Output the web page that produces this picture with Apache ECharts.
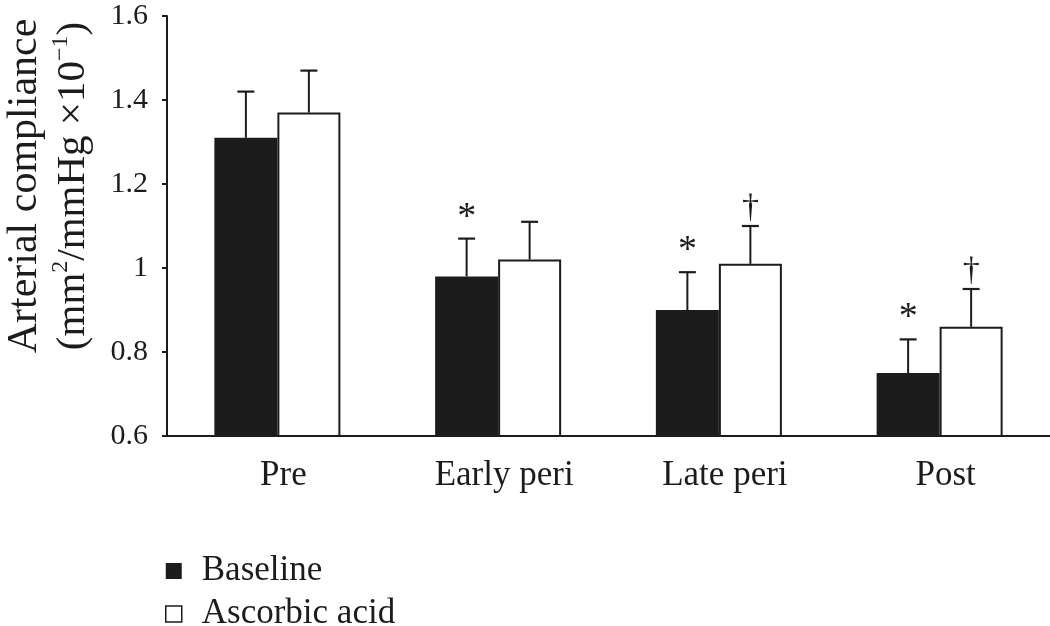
<!DOCTYPE html>
<html><head><meta charset="utf-8">
<script src="https://cdn.jsdelivr.net/npm/echarts@6/dist/echarts.min.js"></script>
<style>html,body{margin:0;padding:0;background:#fff}#c{width:1050px;height:626px}</style>
</head><body><div id="c"></div>
<script>
// ---- data ----
const categories = ['Pre', 'Early peri', 'Late peri', 'Post'];
const seriesNames = ['Baseline', 'Ascorbic acid'];
const baselineMean = [1.31, 0.98, 0.90, 0.75];
const baselineErrTop = [1.42, 1.07, 0.99, 0.83];
const ascorbicMean = [1.37, 1.02, 1.01, 0.86];
const ascorbicErrTop = [1.47, 1.11, 1.10, 0.95];
const baselineMarks = ['', '*', '*', '*'];
const ascorbicMarks = ['', '', '\u2020', '\u2020'];
const yTickLabels = ['0.6', '0.8', '1', '1.2', '1.4', '1.6'];
const yMin = 0.6, yMax = 1.6, yStep = 0.2;

// ---- style ----
const FONT = '"Liberation Serif", "Times New Roman", serif';
const INK = '#1c1c1c';
const BAR_W = 63;
const CAP_HALF = 8.5;

function errData(mean, top, marks) {
  return categories.map((c, i) => [i, mean[i], top[i], marks[i]]);
}
function makeErrRender(side) {
  return function (params, api) {
    const i = api.value(0);
    const pMean = api.coord([i, api.value(1)]);
    const pTop = api.coord([i, api.value(2)]);
    const x = pMean[0] + side * BAR_W / 2;
    const mark = (side < 0 ? baselineMarks : ascorbicMarks)[i];
    const children = [
      { type: 'line', shape: { x1: x, y1: pMean[1], x2: x, y2: pTop[1] }, style: { stroke: INK, lineWidth: 2 } },
      { type: 'line', shape: { x1: x - CAP_HALF, y1: pTop[1], x2: x + CAP_HALF, y2: pTop[1] }, style: { stroke: INK, lineWidth: 2.2 } }
    ];
    if (mark) {
      const isStar = mark === '*';
      children.push({
        type: 'text',
        style: {
          text: mark, x: x, y: pTop[1] - (isStar ? 2 : 1),
          align: 'center', verticalAlign: 'bottom',
          font: (isStar ? '38px ' : '34px ') + FONT, fill: INK
        }
      });
    }
    return { type: 'group', children: children };
  };
}

const chart = echarts.init(document.getElementById('c'), null, { renderer: 'canvas' });
chart.setOption({
  animation: false,
  backgroundColor: '#fff',
  grid: { left: 167, right: 0, top: 16, bottom: 190, containLabel: false },
  xAxis: {
    type: 'category', data: categories,
    axisLine: { lineStyle: { color: INK, width: 2 } },
    axisTick: { show: false },
    axisLabel: { color: INK, fontFamily: FONT, fontSize: 35, margin: 22, padding: [0, 0, 0, 12] }
  },
  yAxis: {
    type: 'value', min: yMin, max: yMax, interval: yStep,
    axisLine: { show: true, lineStyle: { color: INK, width: 2 } },
    axisTick: { show: true, inside: false, length: 5, lineStyle: { color: INK, width: 2 } },
    splitLine: { show: false },
    axisLabel: {
      color: INK, fontFamily: FONT, fontSize: 30, margin: 19,
      formatter: v => yTickLabels[Math.round((v - yMin) / yStep)]
    }
  },
  legend: {
    orient: 'vertical', left: 165, top: 552, height: 120, padding: 0,
    itemWidth: 16, itemHeight: 16, itemGap: 5,
    textStyle: { color: INK, fontFamily: FONT, fontSize: 35, lineHeight: 38, padding: [0, 0, 0, 15] },
    data: [
      { name: seriesNames[0], icon: 'rect', itemStyle: { color: INK, borderWidth: 0 } },
      { name: seriesNames[1], icon: 'rect', itemStyle: { color: '#fff', borderColor: INK, borderWidth: 1.5 } }
    ]
  },
  graphic: [{
    type: 'text', x: 49, y: 186, rotation: Math.PI / 2,
    style: {
      text: '{a|Arterial compliance}\n{b|(mm}{s|2}{b|/mmHg \u00d710}{s|\u22121}{b|)}',
      align: 'center', verticalAlign: 'middle', fill: INK,
      rich: {
        a: { fontFamily: FONT, fontSize: 42, lineHeight: 48, fill: INK },
        b: { fontFamily: FONT, fontSize: 41, lineHeight: 48, fill: INK },
        s: { fontFamily: FONT, fontSize: 24, verticalAlign: 'top', fill: INK }
      }
    }
  }],
  series: [
    {
      name: seriesNames[0], type: 'bar', data: baselineMean, barWidth: BAR_W, barGap: '0%',
      itemStyle: { color: INK, borderWidth: 0 }, z: 2
    },
    {
      name: seriesNames[1], type: 'bar', data: ascorbicMean, barWidth: BAR_W, barGap: '0%',
      itemStyle: { color: '#fff', borderColor: INK, borderWidth: 2 }, z: 2
    },
    {
      type: 'custom', name: 'errBaseline', data: errData(baselineMean, baselineErrTop, baselineMarks),
      renderItem: makeErrRender(-1), z: 3, silent: true
    },
    {
      type: 'custom', name: 'errAscorbic', data: errData(ascorbicMean, ascorbicErrTop, ascorbicMarks),
      renderItem: makeErrRender(1), z: 3, silent: true
    }
  ]
});
</script></body></html>
